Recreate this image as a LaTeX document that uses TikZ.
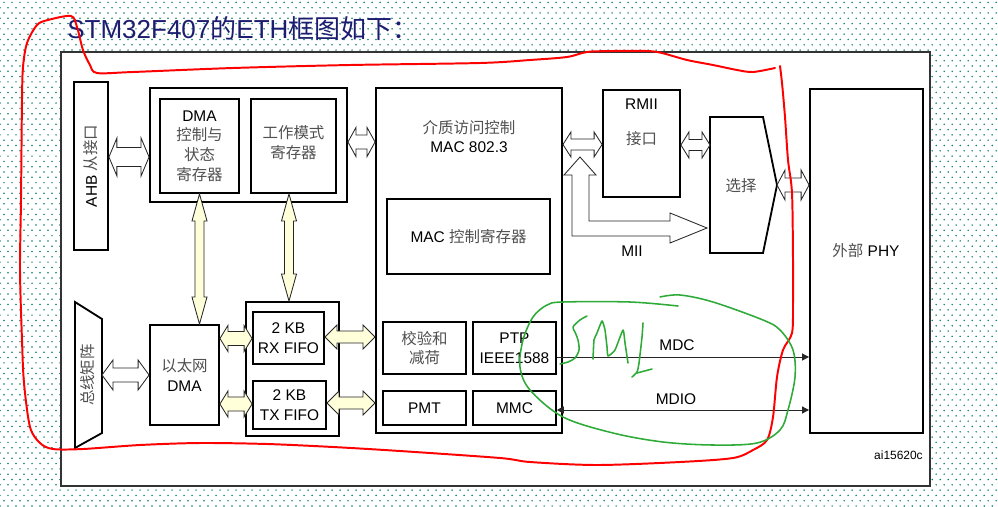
\documentclass[tikz,border=0pt]{standalone}
\usepackage{fontspec}
\setmainfont{Liberation Sans}
\newfontfamily\cjk{Noto Sans CJK SC}
\usetikzlibrary{arrows.meta, calc, positioning, patterns.meta}

\definecolor{titleblue}{RGB}{28,28,112}
\definecolor{zhgray}{RGB}{80,80,80}
\definecolor{cream}{RGB}{255,255,218}
\definecolor{penred}{RGB}{255,0,0}
\definecolor{pengreen}{RGB}{45,170,55}
\definecolor{dotteal}{RGB}{10,125,110}

\newcommand{\zh}[1]{{\cjk\color{zhgray}#1}}

\tikzdeclarepattern{
  name=slidedots,
  type=uncolored,
  bottom left={(-0.7pt,-0.7pt)},
  top right={(4.99pt,6.84pt)},
  tile size={(5.69pt,7.54pt)},
  code={
    \pgfpathcircle{\pgfpoint{0pt}{0pt}}{0.6pt}
    \pgfpathcircle{\pgfpoint{2.85pt}{3.77pt}}{0.6pt}
    \pgfusepath{fill}
  }
}

% fat bus arrows: [fill]{from}{to}{offset}{head half}{shaft half}{head length}
\newcommand{\hbus}[7][white]{%
  \draw[bus, fill=#1] let \p1=($(#2)+(0,#4)$), \p2=(#3) in
    (\x1,\y1) -- ++(#7,-#5) -- ++(0,#5-#6) -- ($(\x2,\y1)+(-#7,-#6)$) -- ++(0,#6-#5)
    -- (\x2,\y1) -- ++(-#7,#5) -- ++(0,#6-#5) -- ($(\x1,\y1)+(#7,#6)$) -- ++(0,#5-#6) -- cycle;}
\newcommand{\vbus}[7][cream]{%
  \draw[bus, fill=#1] let \p1=($(#2)+(#4,0)$), \p2=(#3) in
    (\x1,\y1) -- ++(-#5,#7) -- ++(#5-#6,0) -- ($(\x1,\y2)+(-#6,-#7)$) -- ++(#6-#5,0)
    -- (\x1,\y2) -- ++(#5,-#7) -- ++(#6-#5,0) -- ($(\x1,\y1)+(#6,#7)$) -- ++(#5-#6,0) -- cycle;}

\begin{document}
\begin{tikzpicture}[
    x=0.025cm, y=-0.025cm,
    box/.style={draw, line width=1.3pt, fill=white, inner sep=0pt, align=center, font=\fontsize{11}{14}\selectfont},
    outline/.style={draw, line width=1.3pt, fill=white},
    lbl/.style={inner sep=1pt, align=center, font=\fontsize{11}{14}\selectfont},
    bus/.style={draw=black!85, line width=0.6pt, line join=miter},
    sig/.style={draw=black!85, line width=0.7pt},
    redpen/.style={draw=penred, line width=1.4pt, line cap=round, line join=round},
    greenpen/.style={draw=pengreen, line width=1.1pt, line cap=round, line join=round}
]
    \useasboundingbox (0,0) rectangle (998,506);
    \fill[pattern=slidedots, pattern color=dotteal] (0,0) rectangle (998,506);
    \draw[black!80, line width=1.2pt, fill=white] (61,52) rectangle (930,486);

    \node[anchor=base west, inner sep=0pt, text=titleblue, font=\fontsize{18.5}{20}\selectfont] (title) at (67,38)
        {STM32F407{\cjk 的}ETH{\cjk 框图如下：}};

    % AHB side
    \node[box, minimum width=0.85cm, minimum height=4.2cm] (ahb) at (91,166) {};
    \node[lbl, rotate=90] (ahbtxt) at (ahb.center) {AHB \zh{从接口}};

    \node[box, minimum width=4.925cm, minimum height=2.85cm] (dmagrp) at (248.5,145) {};
    \node[box, minimum width=1.975cm, minimum height=2.35cm] (dmareg) at (199.5,146)
        {DMA\\\zh{控制与}\\\zh{状态}\\\zh{寄存器}};
    \node[box, minimum width=2.125cm, minimum height=2.35cm] (modereg) at (293.5,146)
        {\zh{工作模式}\\\zh{寄存器}\\[-8pt]};

    % MAC core
    \node[box, minimum width=4.65cm, minimum height=8.625cm] (mac) at (469,260.5) {};
    \node[lbl, below=0.78cm of mac.north] (mactxt) {\zh{介质访问控制}\\MAC 802.3};
    \node[box, minimum width=4.075cm, minimum height=1.875cm] (macreg) at (468.5,236.5) {MAC \zh{控制寄存器}};
    \node[box, line width=1.1pt, minimum width=2.075cm, minimum height=1.3cm] (csum) at (424.5,348) {\zh{校验和}\\\zh{减荷}};
    \node[box, line width=1.1pt, minimum width=2.075cm, minimum height=1.3cm] (ptp) at (514.5,348) {PTP\\IEEE1588};
    \node[box, line width=1.1pt, minimum width=2.075cm, minimum height=0.85cm] (pmt) at (424.5,408) {PMT};
    \node[box, line width=1.1pt, minimum width=2.075cm, minimum height=0.85cm] (mmc) at (514.5,408) {MMC};

    % RMII / select / PHY
    \node[box, minimum width=1.925cm, minimum height=2.675cm] (rmii) at (641.5,143.5) {};
    \node[lbl] (rmiitxt) at (641.5,104) {RMII};
    \node[lbl] (rmiizh) at (641.5,139) {\zh{接口}};
    \draw[outline] (710,117) -- (763,117) -- (777,185) -- (763,253) -- (710,253) -- cycle;
    \node[lbl] (sel) at (741,186) {\zh{选择}};
    \coordinate (selW) at (710,185);
    \coordinate (selE) at (777,185);
    \node[box, minimum width=2.825cm, minimum height=8.6cm] (phy) at (866.5,261) {};
    \node[lbl] (phytxt) at (866,251) {\zh{外部} PHY};

    % bus matrix / ethernet DMA / FIFOs
    \draw[outline] (75,302) -- (102,319) -- (102,433) -- (75,448) -- cycle;
    \node[lbl, rotate=90] (busmx) at (88,375) {\zh{总线矩阵}};
    \coordinate (busmxE) at (102,375);
    \node[box, minimum width=1.725cm, minimum height=2.5cm] (ethdma) at (184.5,375) {\zh{以太网}\\DMA};
    \node[box, minimum width=2.325cm, minimum height=3.35cm] (fifogrp) at (292.5,369) {};
    \node[box, minimum width=1.775cm, minimum height=1.3cm] (rxfifo) at (288.5,338) {2 KB\\RX FIFO};
    \node[box, minimum width=1.825cm, minimum height=1.2cm] (txfifo) at (289.5,405) {2 KB\\TX FIFO};

    % hollow buses
    \hbus{ahb.east}{dmagrp.west}{-9}{19}{9.5}{8}
    \hbus{dmagrp.east}{mac.west}{-3}{14.5}{7}{8}
    \hbus{mac.east}{rmii.west}{-116}{12.5}{5.5}{8}
    \hbus{rmii.east}{selW}{1.5}{13}{5.5}{8}
    \hbus{selE}{phy.west}{0}{15}{7}{8}
    \hbus{busmxE}{ethdma.west}{0}{15}{7}{11}
    \draw[bus, fill=white] (580,157) -- (596,175) -- (589,175) -- (589,221) -- (670,221) -- (670,213)
        -- (707,228) -- (670,243) -- (670,236) -- (572,236) -- (572,175) -- (564,175) -- cycle;
    \node[lbl] (mii) at (632,251) {MII};

    % cream buses
    \hbus[cream]{ethdma.east}{rxfifo.west}{-36.5}{13}{7}{8}
    \hbus[cream]{ethdma.east}{txfifo.west}{29}{13}{7}{8}
    \hbus[cream]{rxfifo.east}{mac.west}{-1}{12}{6}{12}
    \hbus[cream]{txfifo.east}{mac.west}{-2}{12}{6}{12}
    \vbus{dmareg.south}{ethdma.north}{0}{7.5}{4.5}{27}
    \vbus{modereg.south}{fifogrp.north}{-4.5}{7.5}{4.5}{27}

    % management lines
    \draw[sig, -{Triangle[length=5pt, width=5pt]}] let \p1=($(ptp.east)+(0,9)$), \p2=(phy.west) in (\x1,\y1) -- (\x2,\y1);
    \draw[sig, {Triangle[length=5pt, width=5pt]}-{Triangle[length=5pt, width=5pt]}] let \p1=($(mmc.east)+(0,2)$), \p2=(phy.west) in (\x1,\y1) -- (\x2,\y1);
    \node[lbl] (mdc) at (677,345) {MDC};
    \node[lbl] (mdio) at (676,399) {MDIO};
    \node[anchor=east, inner sep=0pt, font=\fontsize{8.5}{10}\selectfont] (figid) at (923,455) {ai15620c};

    % hand marks
    \draw[redpen] plot[smooth, tension=0.5] coordinates {
        (775,68) (753,72) (737,70) (713,65) (687,60) (662,53) (647,51) (613,51) (587,52) (567,57)
        (530,60) (480,63) (350,65) (233,68) (133,72) (97,73) (90,65) (83,50) (77,27) (71,16)
        (48,20) (37,25) (27,43) (23,67) (22,100) (21,200) (20,270) (22,340) (24,383) (30,427)
        (40,443) (53,449) (83,449) (140,445) (200,443) (267,444) (333,447) (400,451) (500,458)
        (530,462) (597,465) (680,462) (733,458) (753,450) (767,440) (773,417) (777,377) (783,350)
        (792,333) (793,303) (793,260) (792,193) (788,160) (785,117) (782,83) (780,66)};
    \draw[greenpen] plot[smooth, tension=0.55] coordinates {
        (678,306) (630,302) (563,302) (547,305) (533,317) (523,340) (520,367) (530,390) (563,417)
        (613,433) (663,442) (713,445) (757,443) (780,430) (788,410) (795,377) (793,350) (780,330)
        (763,320) (713,302) (680,295) (660,297)};
    \draw[greenpen] plot[smooth, tension=0.5] coordinates {
        (587,316) (580,320) (573,327) (575,332) (578,340) (579,350) (575,358) (568,362) (560,364)};
    \draw[greenpen] plot[smooth, tension=0.3] coordinates {
        (593,359) (594,340) (597,333) (602,321) (605,330) (607,347) (608,356) (615,350) (623,330)
        (625,343) (628,363)};
    \draw[greenpen] plot[smooth, tension=0.4] coordinates {
        (643,323) (642,337) (639,363) (637,372) (632,377)};
    \draw[greenpen] (637,373) -- (652,369);
\end{tikzpicture}
\end{document}
